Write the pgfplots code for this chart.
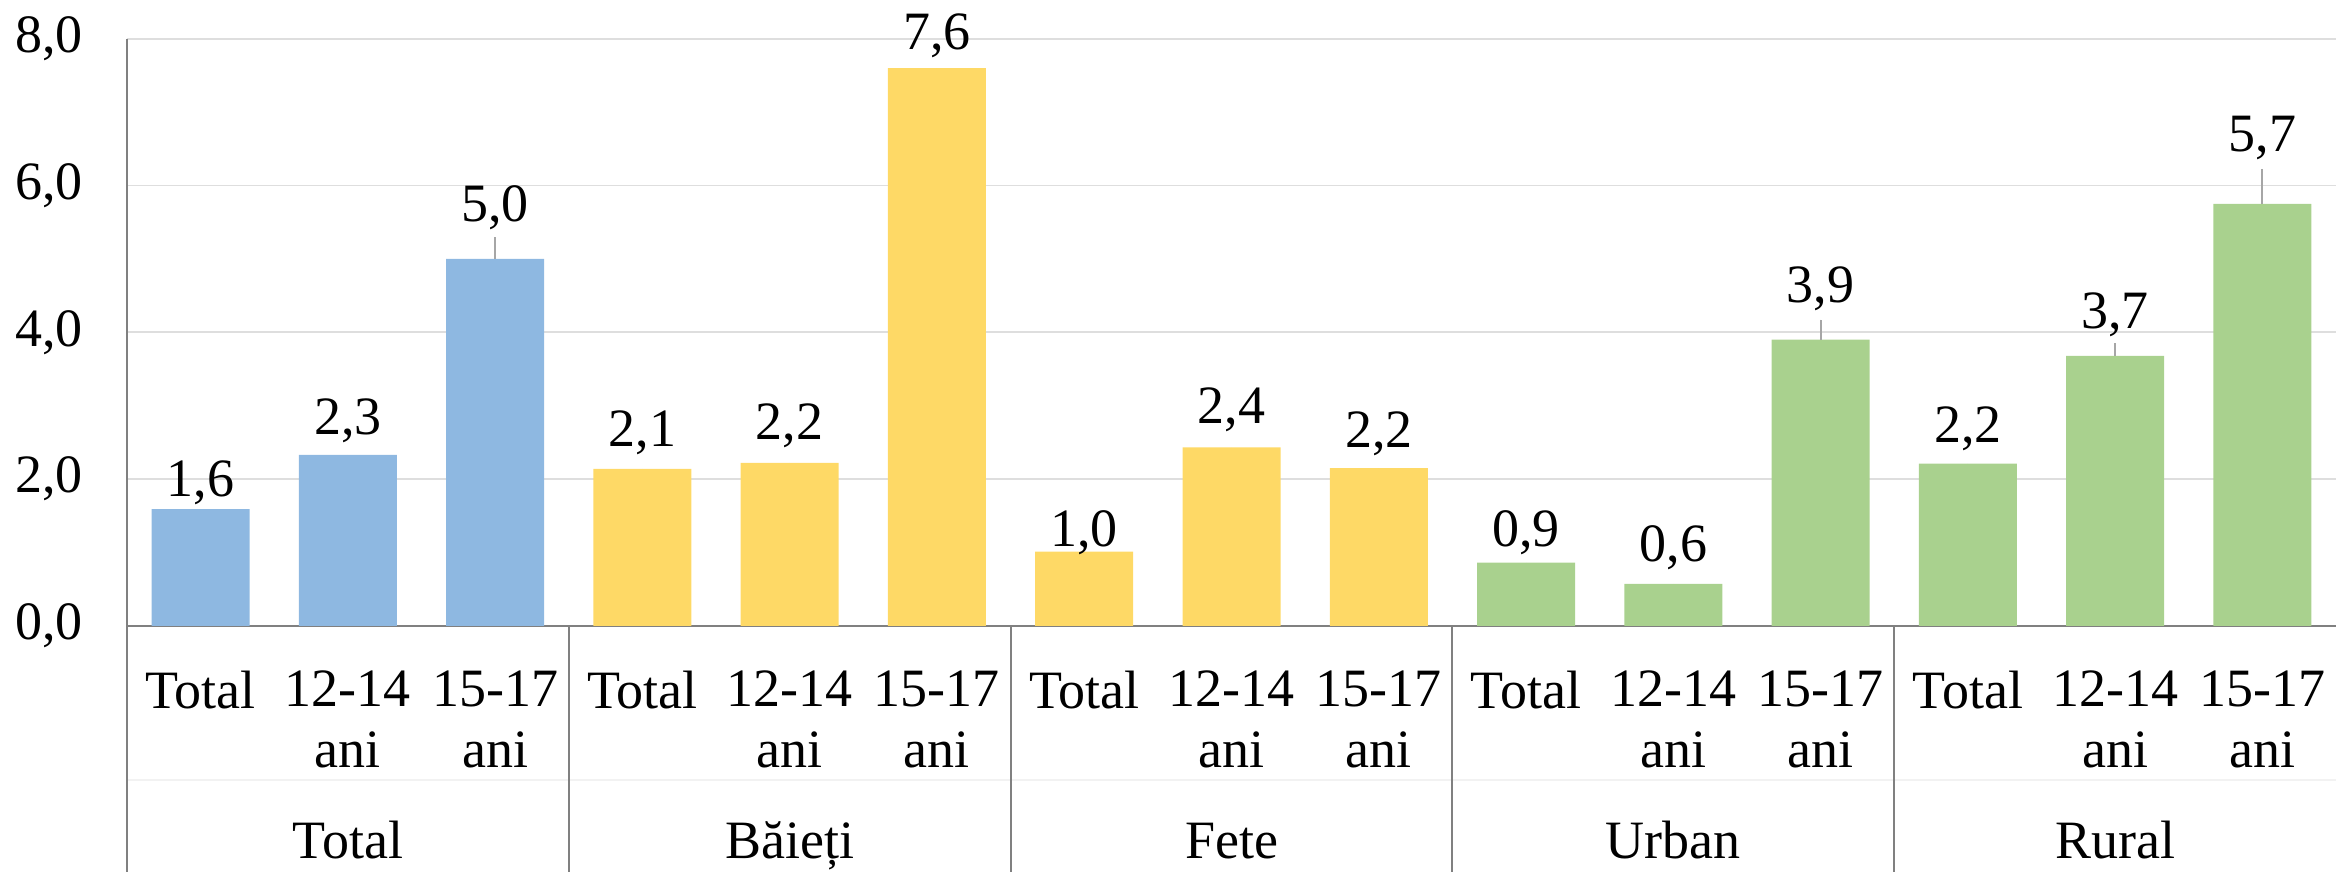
\documentclass[border=0pt]{standalone}
\usepackage{pgfplots}
\pgfplotsset{compat=1.18}
\usepackage{pgfplotstable}
\usepackage{fontspec}
\setmainfont{Liberation Serif}
\definecolor{cblue}{RGB}{142,184,225}
\definecolor{cyellow}{RGB}{254,217,102}
\definecolor{cgreen}{RGB}{169,209,142}
\definecolor{gridc}{RGB}{222,222,222}
\definecolor{axisc}{RGB}{128,128,128}
\definecolor{leadc}{RGB}{166,166,166}
\definecolor{faintc}{RGB}{242,242,242}

\pgfplotstableread{
x y gap err lab
0 1.59 3.25 0 1,6
1 2.33 5.0 0 2,3
2 5.00 9.4 0.294 5,0
}\tblA
\pgfplotstableread{
x y gap err lab
3 2.14 5.6 0 2,1
4 2.22 5.75 0 2,2
5 7.60 4.7 0 7,6
6 1.01 1.3 0 1,0
7 2.43 6.0 0 2,4
8 2.15 5.2 0 2,2
}\tblB
\pgfplotstableread{
x y gap err lab
9 0.86 4.0 0 0,9
10 0.57 5.6 0 0,6
11 3.90 9.2 0.272 3,9
12 2.21 5.2 0 2,2
13 3.68 6.9 0.173 3,7
14 5.75 13.1 0.477 5,7
}\tblC

\begin{document}
\begin{tikzpicture}
\begin{axis}[
  scale only axis, width=552.25pt, height=146.75pt,
  xmin=-0.5, xmax=14.5, ymin=0, ymax=8,
  ytick={0,2,4,6,8},
  ymajorgrids, grid style={color=gridc, line width=0.4pt},
  axis lines=left, axis line style={-, color=axisc, line width=0.5pt},
  major tick length=0pt,
  xtick={0,...,14},
  xticklabels={Total,12-14\\ani,15-17\\ani,Total,12-14\\ani,15-17\\ani,Total,12-14\\ani,15-17\\ani,Total,12-14\\ani,15-17\\ani,Total,12-14\\ani,15-17\\ani},
  xticklabel style={align=center, anchor=north, inner sep=0pt, yshift=-11pt, font=\fontsize{13.5}{15.25}\selectfont},
  yticklabel style={font=\fontsize{13.5}{16}\selectfont, xshift=-7.5pt},
  /pgf/number format/.cd, fixed, fixed zerofill, precision=1, use comma, assume math mode=true, /pgfplots/.cd,
  ybar, bar width=24.5pt, bar shift=0pt,
  clip=false,
  nodes near coords, point meta=explicit symbolic,
  visualization depends on={\thisrow{gap} \as \gap},
  nodes near coords style={anchor=base, yshift=\gap pt, font=\fontsize{13.5}{16}\selectfont, text=black},
]
\addplot[fill=cblue, draw=none, error bars/.cd, y dir=plus, y explicit, error mark=none, error bar style={color=leadc, line width=0.5pt}]
  table[x=x, y=y, y error plus=err, meta=lab]{\tblA};
\addplot[fill=cyellow, draw=none, error bars/.cd, y dir=plus, y explicit, error mark=none, error bar style={color=leadc, line width=0.5pt}]
  table[x=x, y=y, y error plus=err, meta=lab]{\tblB};
\addplot[fill=cgreen, draw=none, error bars/.cd, y dir=plus, y explicit, error mark=none, error bar style={color=leadc, line width=0.5pt}]
  table[x=x, y=y, y error plus=err, meta=lab]{\tblC};

\draw[faintc, line width=0.4pt] ([yshift=-38.5pt]axis cs:-0.5,0) -- ([yshift=-38.5pt]axis cs:14.5,0);
\draw[axisc, line width=0.5pt] (axis cs:-0.5,0) -- ++(0pt,-62pt);
\draw[axisc, line width=0.5pt] (axis cs:2.5,0) -- ++(0pt,-62pt);
\draw[axisc, line width=0.5pt] (axis cs:5.5,0) -- ++(0pt,-62pt);
\draw[axisc, line width=0.5pt] (axis cs:8.5,0) -- ++(0pt,-62pt);
\draw[axisc, line width=0.5pt] (axis cs:11.5,0) -- ++(0pt,-62pt);
\node[anchor=base, yshift=-58.25pt, font=\fontsize{13.5}{16}\selectfont] at (axis cs:1,0) {Total};
\node[anchor=base, yshift=-58.25pt, font=\fontsize{13.5}{16}\selectfont] at (axis cs:4,0) {Băieți};
\node[anchor=base, yshift=-58.25pt, font=\fontsize{13.5}{16}\selectfont] at (axis cs:7,0) {Fete};
\node[anchor=base, yshift=-58.25pt, font=\fontsize{13.5}{16}\selectfont] at (axis cs:10,0) {Urban};
\node[anchor=base, yshift=-58.25pt, font=\fontsize{13.5}{16}\selectfont] at (axis cs:13,0) {Rural};
\end{axis}
\pgfresetboundingbox
\path[use as bounding box] ([shift={(-31.75pt,-61.5pt)}]current axis.south west) rectangle ([shift={(0pt,9.7pt)}]current axis.north east);
\end{tikzpicture}
\end{document}
